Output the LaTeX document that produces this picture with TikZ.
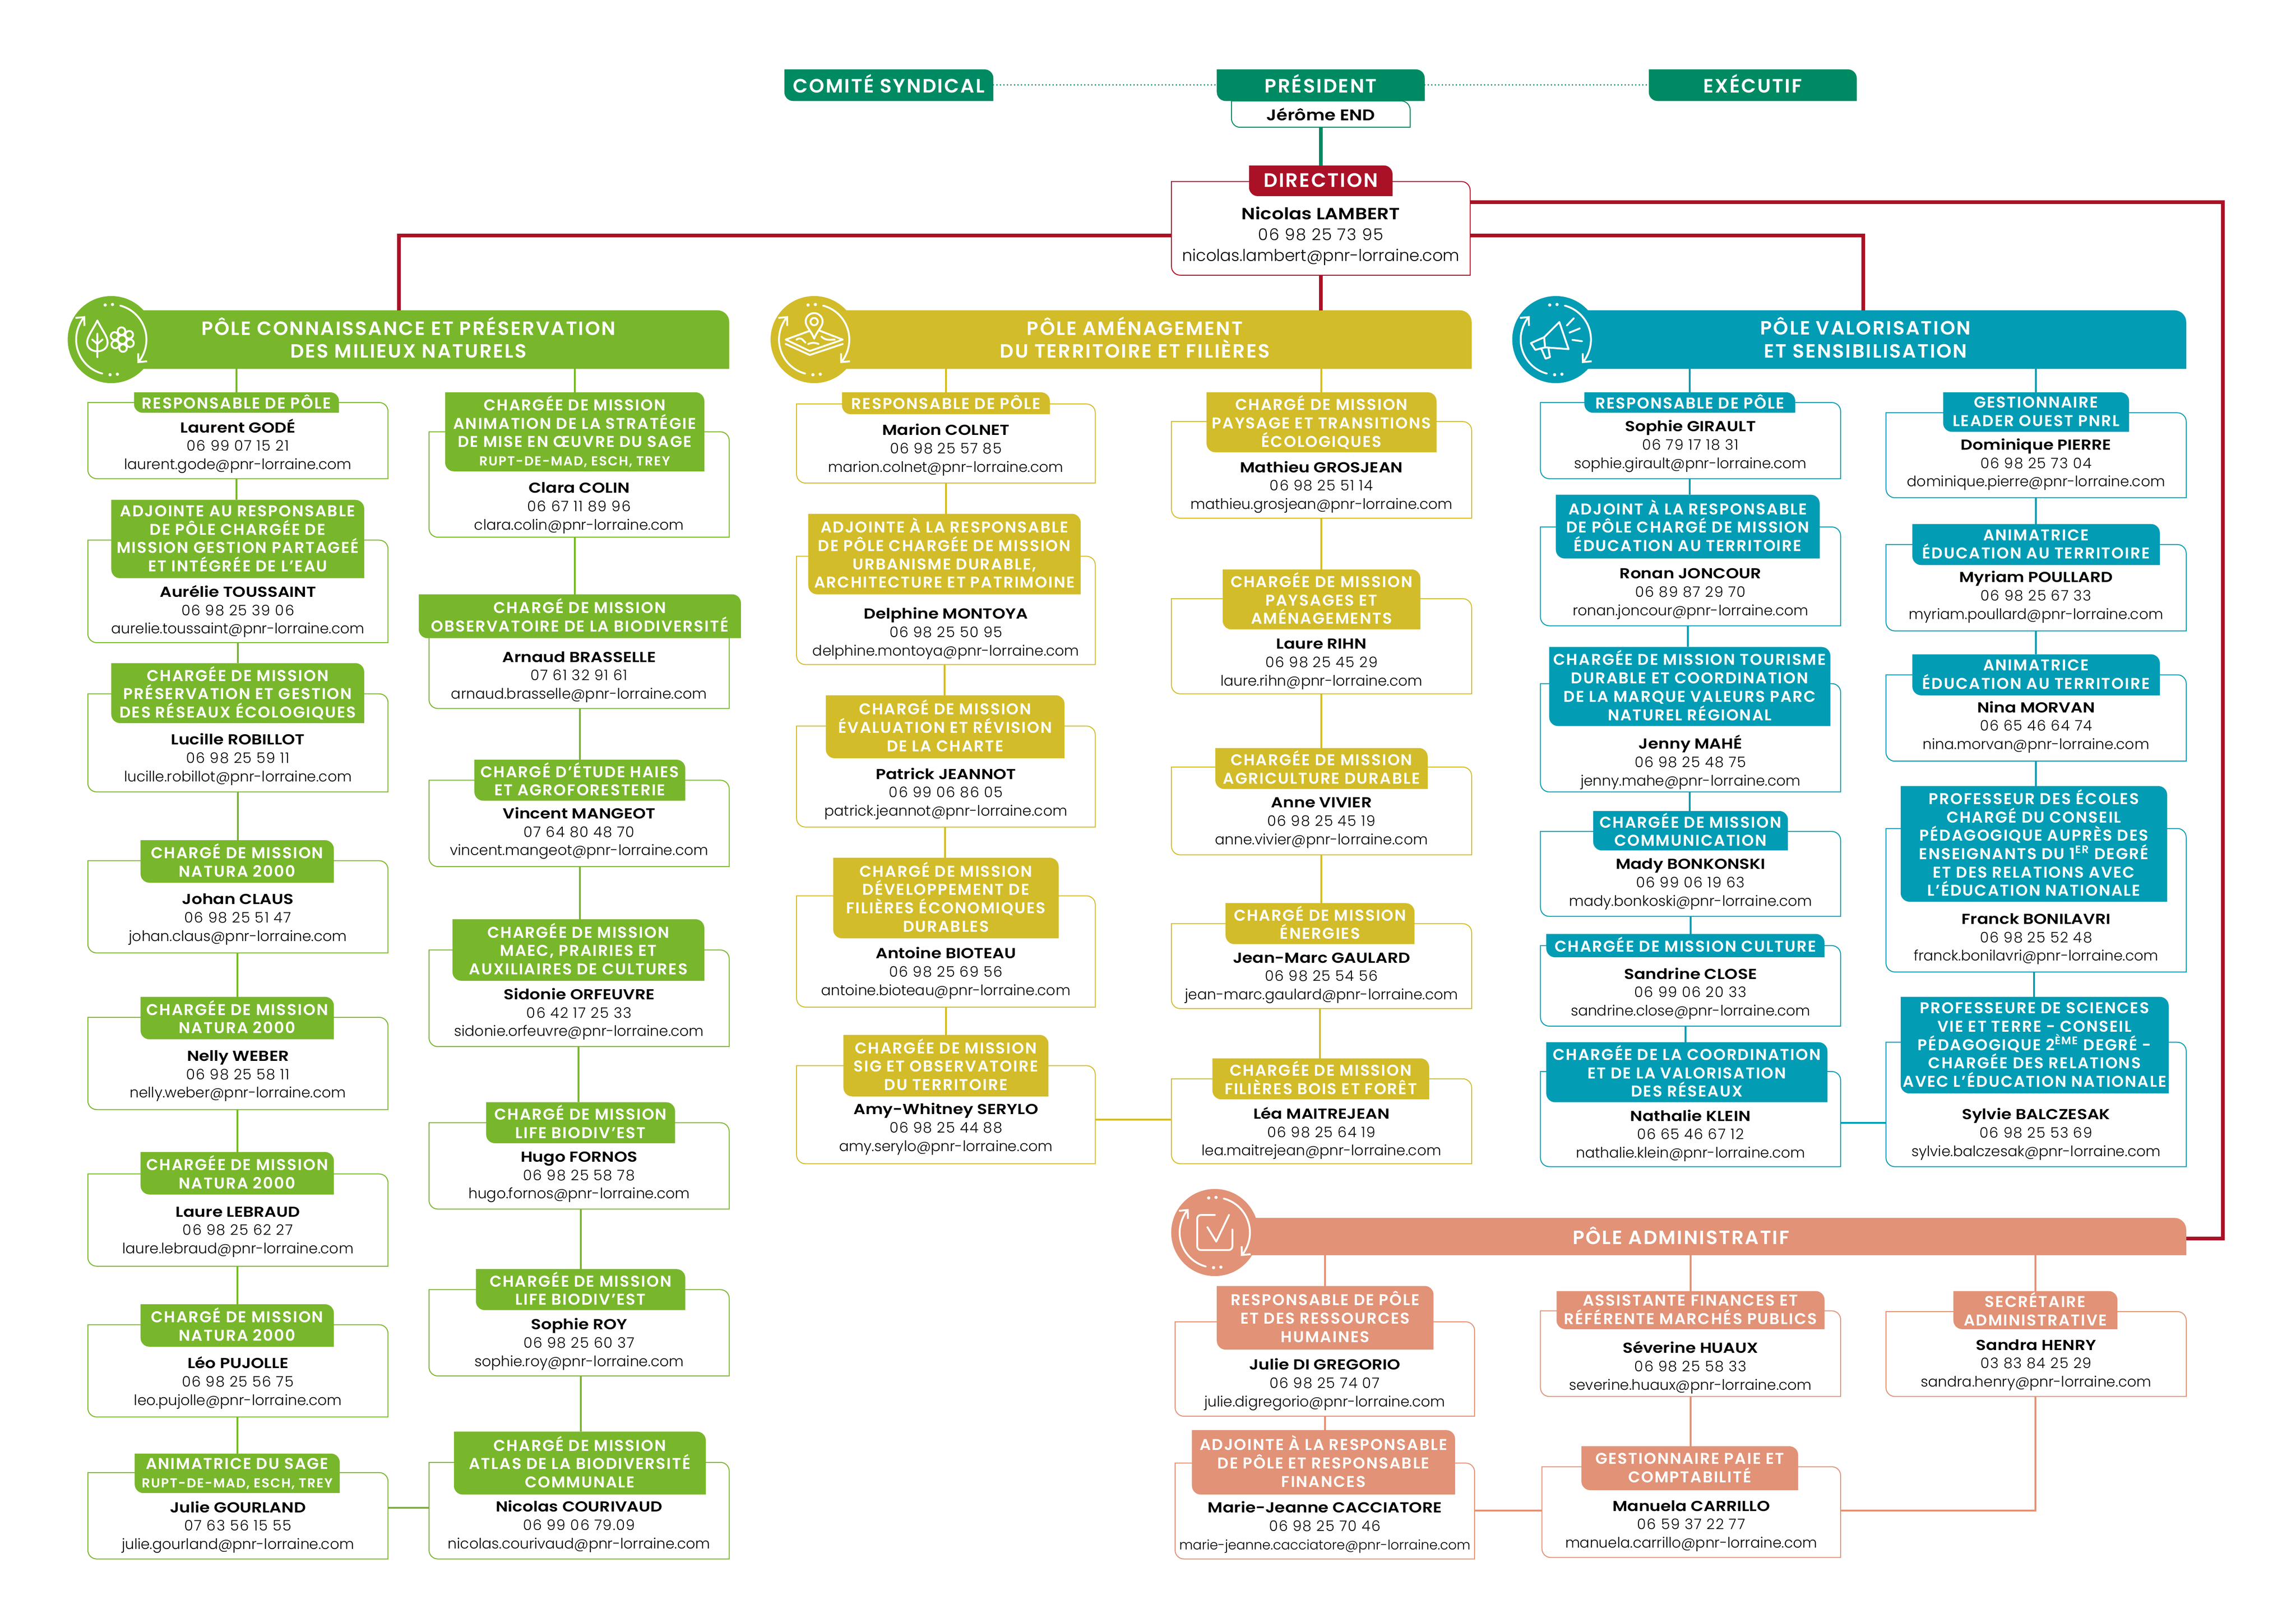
\documentclass[tikz,border=0pt]{standalone}
\usepackage{fontspec}
\usetikzlibrary{arrows.meta}
\setmainfont{Poppins}[UprightFont={* Light},BoldFont={* SemiBold},BoldFeatures={FakeStretch=1.15}]
\newfontfamily\tagfam{Poppins SemiBold}[LetterSpace=7]
\definecolor{cgreen}{HTML}{78B72B}
\definecolor{cyellow}{HTML}{D3BC29}
\definecolor{cteal}{HTML}{029CB4}
\definecolor{corange}{HTML}{E29276}
\definecolor{cred}{HTML}{AB1126}
\definecolor{cdark}{HTML}{008A63}
\def\U{0.03164}
\def\bodyf{\fontsize{8.9}{11.3}\selectfont}
\def\tagf{\tagfam\fontsize{9.6}{11.3}\selectfont}
\def\lst{\rule[-0.15em]{0pt}{0.95em}}
\def\sm#1{{\fontsize{8}{11.3}\selectfont #1}}
\def\getB#1,#2,#3,#4;{\def\bxa{#1}\def\bxb{#2}\def\bya{#3}\def\byb{#4}}
\def\getT#1,#2,#3,#4;{\def\txa{#1}\def\txb{#2}\def\tya{#3}\def\tyb{#4}}
\tikzset{
  boxline/.style={line width=0.02cm},
  conn/.style={line width=0.04cm},
  redline/.style={line width=0.08cm,cred},
  pure/.style={inner sep=0pt,outer sep=0pt},
  icon/.style={white,line width=0.04cm,line cap=round,line join=round},
}
% rectangle with rounded top-right and bottom-left corners
\def\shp#1#2#3#4#5{(#1,#2) -- ({#3-#5},#2) .. controls ({#3-.45*#5},#2) and (#3,{#2+.45*#5}) .. (#3,{#2+#5}) -- (#3,#4) -- ({#1+#5},#4) .. controls ({#1+.45*#5},#4) and (#1,{#4-.45*#5}) .. (#1,{#4-#5}) -- cycle}
% \card{id}{colour}{box x1,x2,y1,y2}{tag x1,x2,y1,y2}{tag text}{text y}{name}{phone}{mail}
\newcommand\card[9]{%
  \getB#3;\getT#4;%
  \draw[#2,boxline,fill=white] \shp{\bxa}{\bya}{\bxb}{\byb}{6};
  \fill[#2] \shp{\txa}{\tya}{\txb}{\tyb}{6};
  \node[pure,minimum width={(\bxb-\bxa)*\U cm},minimum height={(\byb-\bya)*\U cm}] (#1) at ({(\bxa+\bxb)/2},{(\bya+\byb)/2}) {};
  \node[pure,align=center,white,font=\tagf,minimum width={(\txb-\txa)*\U cm},minimum height={(\tyb-\tya)*\U cm}] (#1-t) at ({(\txa+\txb)/2},{(\tya+\tyb)/2}) {\lst #5\lst};
  \node[pure,align=center,font=\bodyf] (#1-b) at ({(\bxa+\bxb)/2},{#6+0.7}) {\lst\textbf{#7}\\{\addfontfeatures{LetterSpace=6}#8}\\#9\lst};
}
% \header{id}{colour}{x1}{x2}{y1}{y2}{icon x,y}{text x,y}{text}
\newcommand\header[9]{%
  \fill[#2] \shp{#3}{#5}{#4}{#6}{8};
  \node[pure,minimum width={(#4-#3)*\U cm},minimum height={(#6-#5)*\U cm}] (#1) at ({(#3+#4)/2},{(#5+#6)/2}) {};
  \node[pure,fill=#2,circle,minimum size={59.5*\U cm}] (#1-c) at (#7) {};
  \node[pure,white,align=center,font=\tagfam\fontsize{11.8}{14}\selectfont] (#1-l) at (#8) {\lst #9\lst};
}
\newcommand\arrowsicon{%
  \draw[icon,-{Straight Barb[length=0.14cm,width=0.26cm]}] (75:24) arc[start angle=75,end angle=-42,radius=24];
  \draw[icon,-{Straight Barb[length=0.14cm,width=0.26cm]}] (255:24) arc[start angle=255,end angle=138,radius=24];
  \fill[white] (88:24) circle (1.1) (100:24) circle (1.1) (268:24) circle (1.1) (280:24) circle (1.1);
}
\begin{document}
\begin{tikzpicture}[x=\U cm,y=-\U cm]
\useasboundingbox (0,0) rectangle (1568,1108.7);
\fill[white] (0,0) rectangle (1568,1108.7);
% ---- top
\fill[cdark] \shp{535.7}{47.4}{678.4}{69}{6};
\node[pure,white,font=\tagfam\fontsize{11.9}{14}\selectfont] (comite) at (607,57) {COMITÉ SYNDICAL};
\draw[cdark,boxline,fill=white] \shp{841}{69}{963}{87}{6};
\node[pure,font=\fontsize{9.5}{12}\selectfont\bfseries] (jerome) at (902,78) {Jérôme END};
\fill[cdark] \shp{831}{47.4}{973}{69}{6};
\node[pure,white,font=\tagfam\fontsize{11.9}{14}\selectfont] (president) at (902,57) {PRÉSIDENT};
\fill[cdark] \shp{1126}{47.4}{1268}{69}{6};
\node[pure,white,font=\tagfam\fontsize{11.9}{14}\selectfont] (executif) at (1197,57) {EXÉCUTIF};
\coordinate (c1) at (678.4,58);\coordinate (c2) at (831,58);\coordinate (c3) at (973,58);\coordinate (c4) at (1126,58);
\draw[cdark,line width=0.035cm,line cap=round,dash pattern=on 0pt off 0.076cm] (c1) -- (c2);
\draw[cdark,line width=0.035cm,line cap=round,dash pattern=on 0pt off 0.076cm] (c3) -- (c4);
% ---- direction
\begingroup
\def\bodyf{\fontsize{10}{12.9}\selectfont}
\def\tagf{\tagfam\fontsize{12}{14}\selectfont}
\card{dir}{cred}{800,1004,124,188}{853,951,113,134}{DIRECTION}{160.5}{Nicolas LAMBERT}{06 98 25 73 95}{nicolas.lambert@pnr-lorraine.com}
\endgroup
\coordinate (j1) at (902,87);
\draw[cdark,line width=0.075cm] (j1) -- (j1 |- dir-t.north);
% ---- headers
\header{pg}{cgreen}{76}{498}{212}{252}{76,232}{279,231.5}{PÔLE CONNAISSANCE ET PRÉSERVATION\\DES MILIEUX NATURELS}
\header{py}{cyellow}{556}{1005}{212}{252}{556,232}{775,231.5}{PÔLE AMÉNAGEMENT\\DU TERRITOIRE ET FILIÈRES}
\header{pt}{cteal}{1062}{1493}{212}{252}{1062.5,232}{1274,231.5}{PÔLE VALORISATION\\ET SENSIBILISATION}
\header{po}{corange}{830}{1493}{832}{857.5}{829.6,842}{1148,845}{PÔLE ADMINISTRATIF}
% ---- red lines
\coordinate (r1) at (800,161);\coordinate (r2) at (272.4,212);
\coordinate (r3) at (1004,161);\coordinate (r4) at (1272.5,212);
\coordinate (r5) at (1004,138);\coordinate (r6) at (1518,846);\coordinate (r7) at (1493,846);
\draw[redline] (r1) -| (r2);
\draw[redline] (r3) -| (r4);
\draw[redline] (dir.south) -- (dir.south |- py.north);
\draw[redline] (r5) -| (r6) -- (r7);
% ---- icons
\begin{scope}[shift={(76,232)},y=\U cm]
\arrowsicon
\draw[icon] (-9.5,13) .. controls (-13,6) and (-16.5,2) .. (-16.5,-2) .. controls (-16.5,-6) and (-13,-8) .. (-9.5,-8) .. controls (-6,-8) and (-2.5,-6) .. (-2.5,-2) .. controls (-2.5,2) and (-6,6) .. (-9.5,13);
\draw[icon] (-9.5,-12) -- (-9.5,4) (-9.5,-3) -- (-13,0) (-9.5,-3) -- (-6,0);
\draw[icon] (7.5,0) circle (3);
\foreach \a in {0,60,...,300}{\draw[icon] ({7.5+5.8*cos(\a-25)},{5.8*sin(\a-25)}) circle (2.6);}
\end{scope}
\begin{scope}[shift={(556,232)},y=\U cm]
\arrowsicon
\draw[icon] (-3,6) -- (-19.4,0) -- (-3,-7.8) -- (19.5,0) -- (4,6);
\draw[icon] (-19.4,-3) -- (-3,-10.5) -- (19.5,-3);
\draw[icon] (0,0.7) .. controls (-2,6) and (-5.8,9) .. (-5.8,12.3) arc[start angle=180,end angle=0,radius=5.8] .. controls (5.8,9) and (2,6) .. (0,0.7);
\draw[icon] (0,12.3) circle (2.5);
\draw[icon] (-12,0) .. controls (-9,2) and (-8,0) .. (-6,-2) (5,2) .. controls (8,-1) and (12,0) .. (14,0) (-4,-3) .. controls (-2,-2) and (1,-2) .. (3,-3);
\end{scope}
\begin{scope}[shift={(1062.5,232)},y=\U cm]
\arrowsicon
\draw[icon] (-8,1.6) -- (2.4,12) -- (8.7,-6.5) -- (-7.3,-5.3);
\draw[icon] (-8,1.6) -- (-17,-2.4) -- (-14,-7) -- (-7.3,-5.3) -- cycle;
\draw[icon] (-10,-6) -- (-7,-13) -- (-4,-12) -- (-5,-6);
\draw[icon] (7.6,9.7) -- (12.2,14.5) (9.4,4.8) -- (16.3,7.6) (11.4,-0.2) -- (17.8,-1.1);
\end{scope}
\begin{scope}[shift={(829.6,842)},y=\U cm]
\arrowsicon
\draw[icon,rounded corners=0.08cm] (0,12) -- (-12,12) -- (-12,-12) -- (12,-12) -- (12,2);
\draw[icon] (-5,3.6) -- (1,-6.2) -- (9.7,12);
\end{scope}
% ---- green col 1
\card{g1}{cgreen}{60,265,275,327}{91.5,231.5,268,282}{RESPONSABLE DE PÔLE}{304}{Laurent GODÉ}{06 99 07 15 21}{laurent.gode@pnr-lorraine.com}
\card{g2}{cgreen}{60,265,369,439}{76,248.7,341.5,395}{ADJOINTE AU RESPONSABLE\\DE PÔLE CHARGÉE DE\\MISSION GESTION PARTAGEÉ\\ET INTÉGRÉE DE L’EAU}{417}{Aurélie TOUSSAINT}{06 98 25 39 06}{aurelie.toussaint@pnr-lorraine.com}
\card{g3}{cgreen}{60,265,474,541}{76,248.7,453,494}{CHARGÉE DE MISSION\\PRÉSERVATION ET GESTION\\DES RÉSEAUX ÉCOLOGIQUES}{518}{Lucille ROBILLOT}{06 98 25 59 11}{lucille.robillot@pnr-lorraine.com}
\card{g4}{cgreen}{60,265,588,651}{96,228,574,603}{CHARGÉ DE MISSION\\NATURA 2000}{627}{Johan CLAUS}{06 98 25 51 47}{johan.claus@pnr-lorraine.com}
\card{g5}{cgreen}{60,265,695,758}{96,228,681,710}{CHARGÉE DE MISSION\\NATURA 2000}{734}{Nelly WEBER}{06 98 25 58 11}{nelly.weber@pnr-lorraine.com}
\card{g6}{cgreen}{60,265,802,865}{96,228,787,816}{CHARGÉE DE MISSION\\NATURA 2000}{840.5}{Laure LEBRAUD}{06 98 25 62 27}{laure.lebraud@pnr-lorraine.com}
\card{g7}{cgreen}{60,265,905,968}{96,228,891,920}{CHARGÉ DE MISSION\\NATURA 2000}{944}{Léo PUJOLLE}{06 98 25 56 75}{leo.pujolle@pnr-lorraine.com}
\card{g8}{cgreen}{60,265,1006,1065}{92,232,993,1020}{ANIMATRICE DU SAGE\\\sm{RUPT-DE-MAD, ESCH, TREY}}{1042.5}{Julie GOURLAND}{07 63 56 15 55}{julie.gourland@pnr-lorraine.com}
% ---- green col 2
\card{h1}{cgreen}{293,498,295,367}{304,481,268,322}{CHARGÉE DE MISSION\\ANIMATION DE LA STRATÉGIE\\DE MISE EN ŒUVRE DU SAGE\\\sm{RUPT-DE-MAD, ESCH, TREY}}{346}{Clara COLIN}{06 67 11 89 96}{clara.colin@pnr-lorraine.com}
\card{h2}{cgreen}{293,498,421,484}{286,506,406,436}{CHARGÉ DE MISSION\\OBSERVATOIRE DE LA BIODIVERSITÉ}{461.5}{Arnaud BRASSELLE}{07 61 32 91 61}{arnaud.brasselle@pnr-lorraine.com}
\card{h3}{cgreen}{293,498,533,592}{324,468,519,547}{CHARGÉ D’ÉTUDE HAIES\\ET AGROFORESTERIE}{568.5}{Vincent MANGEOT}{07 64 80 48 70}{vincent.mangeot@pnr-lorraine.com}
\card{h4}{cgreen}{293,498,649,715}{309,481,628,670}{CHARGÉE DE MISSION\\MAEC, PRAIRIES ET\\AUXILIAIRES DE CULTURES}{692}{Sidonie ORFEUVRE}{06 42 17 25 33}{sidonie.orfeuvre@pnr-lorraine.com}
\card{h5}{cgreen}{293,498,767,826}{332,461,753,781}{CHARGÉ DE MISSION\\LIFE BIODIV’EST}{803}{Hugo FORNOS}{06 98 25 58 78}{hugo.fornos@pnr-lorraine.com}
\card{h6}{cgreen}{293,498,881,940}{325,468,867,895}{CHARGÉE DE MISSION\\LIFE BIODIV’EST}{917.5}{Sophie ROY}{06 98 25 60 37}{sophie.roy@pnr-lorraine.com}
\card{h7}{cgreen}{293,498,999,1065}{310,482,978,1021}{CHARGÉ DE MISSION\\ATLAS DE LA BIODIVERSITÉ\\COMMUNALE}{1042}{Nicolas COURIVAUD}{06 99 06 79.09}{nicolas.courivaud@pnr-lorraine.com}
% ---- yellow col 1
\card{y1}{cyellow}{544,748,276,330}{575,717,268,283}{RESPONSABLE DE PÔLE}{306.5}{Marion COLNET}{06 98 25 57 85}{marion.colnet@pnr-lorraine.com}
\card{y2}{cyellow}{544,748,380,454}{552,738,351,406}{ADJOINTE À LA RESPONSABLE\\DE PÔLE CHARGÉE DE MISSION\\URBANISME DURABLE,\\ARCHITECTURE ET PATRIMOINE}{432}{Delphine MONTOYA}{06 98 25 50 95}{delphine.montoya@pnr-lorraine.com}
\card{y3}{cyellow}{544,748,496,565}{564,727,475,518}{CHARGÉ DE MISSION\\ÉVALUATION ET RÉVISION\\DE LA CHARTE}{541.5}{Patrick JEANNOT}{06 99 06 86 05}{patrick.jeannot@pnr-lorraine.com}
\card{y4}{cyellow}{544,748,612,688}{569,723,586,641}{CHARGÉ DE MISSION\\DÉVELOPPEMENT DE\\FILIÈRES ÉCONOMIQUES\\DURABLES}{664}{Antoine BIOTEAU}{06 98 25 69 56}{antoine.bioteau@pnr-lorraine.com}
\card{y5}{cyellow}{544,748,728,795}{576,716,707,749}{CHARGÉE DE MISSION\\SIG ET OBSERVATOIRE\\DU TERRITOIRE}{770.5}{Amy-Whitney SERYLO}{06 98 25 44 88}{amy.serylo@pnr-lorraine.com}
% ---- yellow col 2
\card{z1}{cyellow}{800,1005,288,354}{824,981,268,309}{CHARGÉ DE MISSION\\PAYSAGE ET TRANSITIONS\\ÉCOLOGIQUES}{332}{Mathieu GROSJEAN}{06 98 25 51 14}{mathieu.grosjean@pnr-lorraine.com}
\card{z2}{cyellow}{800,1005,409,474}{835,970,389,430}{CHARGÉE DE MISSION\\PAYSAGES ET\\AMÉNAGEMENTS}{452.5}{Laure RIHN}{06 98 25 45 29}{laure.rihn@pnr-lorraine.com}
\card{z3}{cyellow}{800,1005,524,584}{830,975,511,539}{CHARGÉE DE MISSION\\AGRICULTURE DURABLE}{561}{Anne VIVIER}{06 98 25 45 19}{anne.vivier@pnr-lorraine.com}
\card{z4}{cyellow}{800,1005,631,689}{837,966,617,645}{CHARGÉ DE MISSION\\ÉNERGIES}{667}{Jean-Marc GAULARD}{06 98 25 54 56}{jean-marc.gaulard@pnr-lorraine.com}
\card{z5}{cyellow}{800,1005,737,795}{828,976,723,751}{CHARGÉE DE MISSION\\FILIÈRES BOIS ET FORÊT}{773.5}{Léa MAITREJEAN}{06 98 25 64 19}{lea.maitrejean@pnr-lorraine.com}
% ---- teal col 1
\card{t1}{cteal}{1052,1257,275,327}{1082,1226,268,282}{RESPONSABLE DE PÔLE}{304}{Sophie GIRAULT}{06 79 17 18 31}{sophie.girault@pnr-lorraine.com}
\card{t2}{cteal}{1052,1257,360,427.5}{1062.5,1242.7,338,381.5}{ADJOINT À LA RESPONSABLE\\DE PÔLE CHARGÉ DE MISSION\\ÉDUCATION AU TERRITOIRE}{404.5}{Ronan JONCOUR}{06 89 87 29 70}{ronan.joncour@pnr-lorraine.com}
\card{t3}{cteal}{1052,1257,467,541}{1058,1250,442,496}{CHARGÉE DE MISSION TOURISME\\DURABLE ET COORDINATION\\DE LA MARQUE VALEURS PARC\\NATUREL RÉGIONAL}{520}{Jenny MAHÉ}{06 98 25 48 75}{jenny.mahe@pnr-lorraine.com}
\card{t4}{cteal}{1052,1257,568,626}{1088,1221,554,581}{CHARGÉE DE MISSION\\COMMUNICATION}{603}{Mady BONKONSKI}{06 99 06 19 63}{mady.bonkoski@pnr-lorraine.com}
\card{t5}{cteal}{1052,1257,646,701}{1056,1246,638,654}{CHARGÉE DE MISSION CULTURE}{678}{Sandrine CLOSE}{06 99 06 20 33}{sandrine.close@pnr-lorraine.com}
\card{t6}{cteal}{1052,1257,732,797}{1056,1248,712,753}{CHARGÉE DE LA COORDINATION\\ET DE LA VALORISATION\\DES RÉSEAUX}{775}{Nathalie KLEIN}{06 65 46 67 12}{nathalie.klein@pnr-lorraine.com}
% ---- teal col 2
\card{u1}{cteal}{1288,1493,282,340}{1327,1454,268,295}{GESTIONNAIRE\\LEADER OUEST PNRL}{316.5}{Dominique PIERRE}{06 98 25 73 04}{dominique.pierre@pnr-lorraine.com}
\card{u2}{cteal}{1288,1493,372,431}{1306,1475,358,386}{ANIMATRICE\\ÉDUCATION AU TERRITOIRE}{407}{Myriam POULLARD}{06 98 25 67 33}{myriam.poullard@pnr-lorraine.com}
\card{u3}{cteal}{1288,1493,461,520}{1306,1475,447,475}{ANIMATRICE\\ÉDUCATION AU TERRITOIRE}{496}{Nina MORVAN}{06 65 46 64 74}{nina.morvan@pnr-lorraine.com}
\card{u4}{cteal}{1288,1493,566,664}{1298,1480,537,616}{PROFESSEUR DES ÉCOLES\\CHARGÉ DU CONSEIL\\PÉDAGOGIQUE AUPRÈS DES\\ENSEIGNANTS DU 1\textsuperscript{ER} DEGRÉ\\ET DES RELATIONS AVEC\\L’ÉDUCATION NATIONALE}{640.5}{Franck BONILAVRI}{06 98 25 52 48}{franck.bonilavri@pnr-lorraine.com}
\card{u5}{cteal}{1288,1493,712,797}{1298,1481,681,747}{PROFESSEURE DE SCIENCES\\VIE ET TERRE - CONSEIL\\PÉDAGOGIQUE 2\textsuperscript{ÈME} DEGRÉ -\\CHARGÉE DES RELATIONS\\AVEC L’ÉDUCATION NATIONALE}{774}{Sylvie BALCZESAK}{06 98 25 53 69}{sylvie.balczesak@pnr-lorraine.com}
% ---- orange
\card{o1}{corange}{802.5,1007,903,967.5}{831,979,878.5,922}{RESPONSABLE DE PÔLE\\ET DES RESSOURCES\\HUMAINES}{945}{Julie DI GREGORIO}{06 98 25 74 07}{julie.digregorio@pnr-lorraine.com}
\card{o2}{corange}{802.5,1007,999.5,1065}{814,993.7,977,1021}{ADJOINTE À LA RESPONSABLE\\DE PÔLE ET RESPONSABLE\\FINANCES}{1042.5}{Marie-Jeanne CACCIATORE}{06 98 25 70 46}{{\fontsize{8.2}{11.3}\selectfont marie-jeanne.cacciatore@pnr-lorraine.com}}
\card{o3}{corange}{1052,1257,895.5,954}{1063,1246,882,908}{ASSISTANTE FINANCES ET\\RÉFÉRENTE MARCHÉS PUBLICS}{933.5}{Séverine HUAUX}{06 98 25 58 33}{severine.huaux@pnr-lorraine.com}
\card{o4}{corange}{1053,1257,1002,1064}{1080,1228,988,1018}{GESTIONNAIRE PAIE ET\\COMPTABILITÉ}{1041.5}{Manuela CARRILLO}{06 59 37 22 77}{manuela.carrillo@pnr-lorraine.com}
\card{o5}{corange}{1288,1493,896,954}{1334,1446,882,908}{SECRÉTAIRE\\ADMINISTRATIVE}{931.5}{Sandra HENRY}{03 83 84 25 29}{sandra.henry@pnr-lorraine.com}
% ---- connectors
\foreach \c/\a/\b in {cgreen/g1/g2,cgreen/g2/g3,cgreen/g3/g4,cgreen/g4/g5,cgreen/g5/g6,cgreen/g6/g7,cgreen/g7/g8,
 cgreen/h1/h2,cgreen/h2/h3,cgreen/h3/h4,cgreen/h4/h5,cgreen/h5/h6,cgreen/h6/h7,
 cyellow/y1/y2,cyellow/y2/y3,cyellow/y3/y4,cyellow/y4/y5,cyellow/z1/z2,cyellow/z2/z3,cyellow/z3/z4,cyellow/z4/z5,
 cteal/t1/t2,cteal/t2/t3,cteal/t3/t4,cteal/t4/t5,cteal/t5/t6,cteal/u1/u2,cteal/u2/u3,cteal/u3/u4,cteal/u4/u5,
 corange/o1/o2,corange/o3/o4}{\draw[\c,conn] (\a-t.south |- \a.south) -- (\a-t.south |- \b-t.north);}
\foreach \c/\p/\a in {cgreen/pg/g1,cgreen/pg/h1,cyellow/py/y1,cyellow/py/z1,cteal/pt/t1,cteal/pt/u1,corange/po/o1,corange/po/o3,corange/po/o5}{\draw[\c,conn] (\a-t.north |- \p.south) -- (\a-t.north);}
\coordinate (ga) at (265,1030);\coordinate (ya) at (748,765);\coordinate (tb) at (1257,767);\coordinate (ob) at (1007,1032);
\draw[cgreen,conn] (ga) -- (h7.west |- ga);
\draw[cyellow,conn] (ya) -- (z5.west |- ya);
\draw[cteal,conn] (tb) -- (u5.west |- tb);
\draw[corange,conn] (ob) -- (o4.west |- ob);
\draw[corange,conn] (o4.east |- ob) -| (o5-t.south |- o5.south);
\end{tikzpicture}
\end{document}
